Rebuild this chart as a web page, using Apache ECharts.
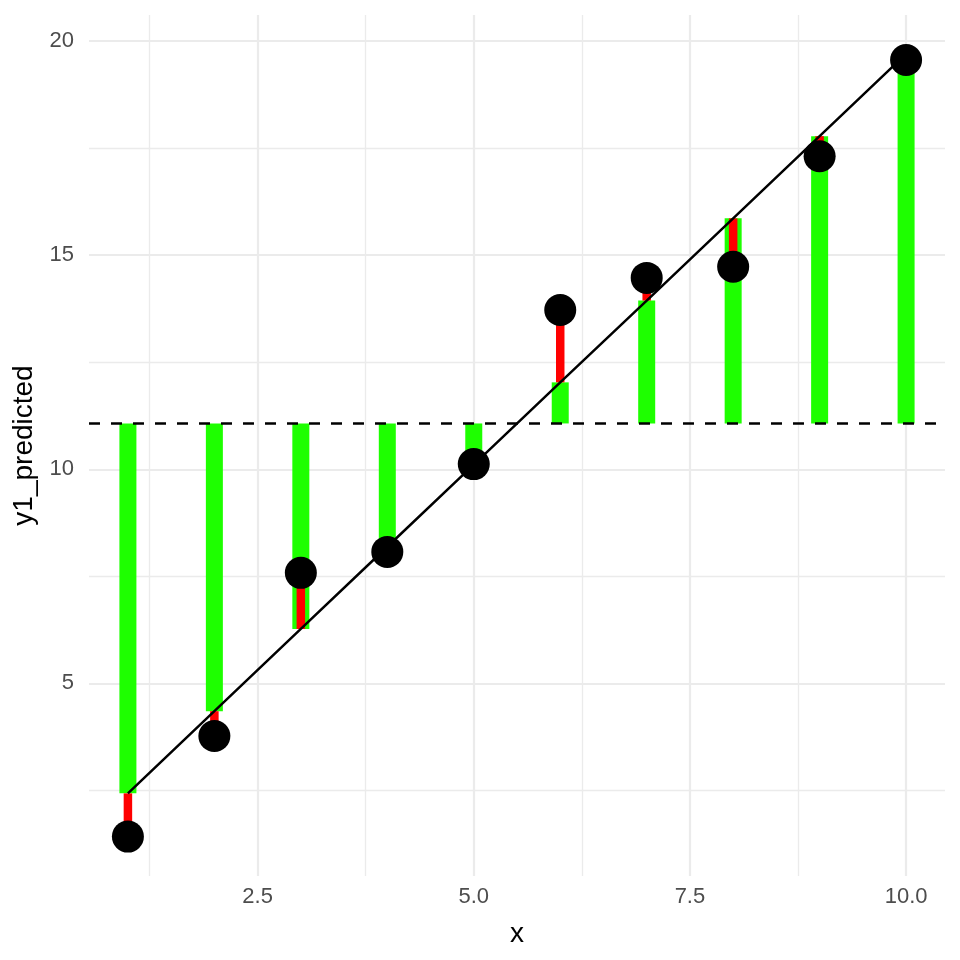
<!DOCTYPE html>
<html>
<head>
<meta charset="utf-8">
<script src="https://cdn.jsdelivr.net/npm/echarts@6/dist/echarts.min.js"></script>
<style>html,body{margin:0;padding:0;background:#fff}#chart{width:960px;height:960px}</style>
</head>
<body>
<div id="chart"></div>
<script>
// ---- data ----
var xValues = [1, 2, 3, 4, 5, 6, 7, 8, 9, 10];
var yActual = [1.42, 3.77, 7.58, 8.07, 10.12, 13.72, 14.47, 14.73, 17.31, 19.56];
var yPredicted = [2.43, 4.35, 6.27, 8.19, 10.11, 12.03, 13.94, 15.86, 17.78, 19.70];
var yMean = 11.07;
var xMajorTicks = [2.5, 5.0, 7.5, 10.0];
var xMinorTicks = [1.25, 3.75, 6.25, 8.75];
var yMajorTicks = [5, 10, 15, 20];
var yMinorTicks = [2.5, 7.5, 12.5, 17.5];
var xRange = [0.55, 10.45];
var yRange = [0.50, 20.61];

var FONT = '"Liberation Sans", Arial, Helvetica, sans-serif';
var GRID = '#ebebeb';

var greenData = xValues.map(function (x, i) { return [x, yMean, yPredicted[i]]; });
var redData = xValues.map(function (x, i) { return [x, yPredicted[i], yActual[i]]; });
var lineData = xValues.map(function (x, i) { return [x, yPredicted[i]]; });
var pointData = xValues.map(function (x, i) { return [x, yActual[i]]; });

function segRenderer(width, color) {
  return function (params, api) {
    var p0 = api.coord([api.value(0), api.value(1)]);
    var p1 = api.coord([api.value(0), api.value(2)]);
    var top = Math.min(p0[1], p1[1]);
    var h = Math.abs(p0[1] - p1[1]);
    return {
      type: 'rect',
      shape: { x: p0[0] - width / 2, y: top, width: width, height: h },
      style: { fill: color }
    };
  };
}

var chart = echarts.init(document.getElementById('chart'), null, { renderer: 'canvas' });
chart.setOption({
  animation: false,
  backgroundColor: '#ffffff',
  grid: { left: 89, right: 15, top: 15, bottom: 84, containLabel: false },
  xAxis: [{
    type: 'value', min: xRange[0], max: xRange[1],
    name: 'x', nameLocation: 'middle', nameGap: 44,
    nameTextStyle: { color: '#000', fontSize: 28, fontFamily: FONT },
    axisLine: { show: false },
    axisTick: { show: false, customValues: xMajorTicks },
    axisLabel: { customValues: xMajorTicks, color: '#4d4d4d', fontSize: 22, fontFamily: FONT, margin: 10,
      formatter: function (v) { return v.toFixed(1); } },
    splitLine: { show: true, lineStyle: { color: GRID, width: 2.2 } }
  }, {
    type: 'value', min: xRange[0], max: xRange[1], position: 'top',
    axisLine: { show: false },
    axisTick: { show: false, customValues: xMinorTicks },
    axisLabel: { show: false, customValues: xMinorTicks },
    splitLine: { show: true, lineStyle: { color: GRID, width: 1.3 } }
  }],
  yAxis: [{
    type: 'value', min: yRange[0], max: yRange[1],
    name: 'y1_predicted', nameLocation: 'middle', nameGap: 48, nameRotate: 90,
    nameTextStyle: { color: '#000', fontSize: 28, fontFamily: FONT },
    axisLine: { show: false },
    axisTick: { show: false, customValues: yMajorTicks },
    axisLabel: { customValues: yMajorTicks, color: '#4d4d4d', fontSize: 22, fontFamily: FONT, margin: 15 },
    splitLine: { show: true, lineStyle: { color: GRID, width: 2.2 } }
  }, {
    type: 'value', min: yRange[0], max: yRange[1], position: 'right',
    axisLine: { show: false },
    axisTick: { show: false, customValues: yMinorTicks },
    axisLabel: { show: false, customValues: yMinorTicks },
    splitLine: { show: true, lineStyle: { color: GRID, width: 1.3 } }
  }],
  series: [{
    type: 'custom', name: 'explained', data: greenData,
    renderItem: segRenderer(17, '#1eff00'), encode: { x: 0, y: [1, 2] }, z: 2, clip: true
  }, {
    type: 'custom', name: 'residual', data: redData,
    renderItem: segRenderer(8.5, '#ff0000'), encode: { x: 0, y: [1, 2] }, z: 3, clip: true
  }, {
    type: 'line', name: 'fit', data: lineData, showSymbol: false, symbol: 'none',
    lineStyle: { color: '#000', width: 2.5 }, z: 4,
    markLine: {
      silent: true, symbol: 'none', label: { show: false },
      lineStyle: { color: '#000', width: 2.6, type: [11, 11] },
      data: [{ yAxis: yMean }]
    }
  }, {
    type: 'scatter', name: 'actual', data: pointData, symbolSize: 32,
    itemStyle: { color: '#000', opacity: 1 }, z: 5
  }]
});
</script>
</body>
</html>
